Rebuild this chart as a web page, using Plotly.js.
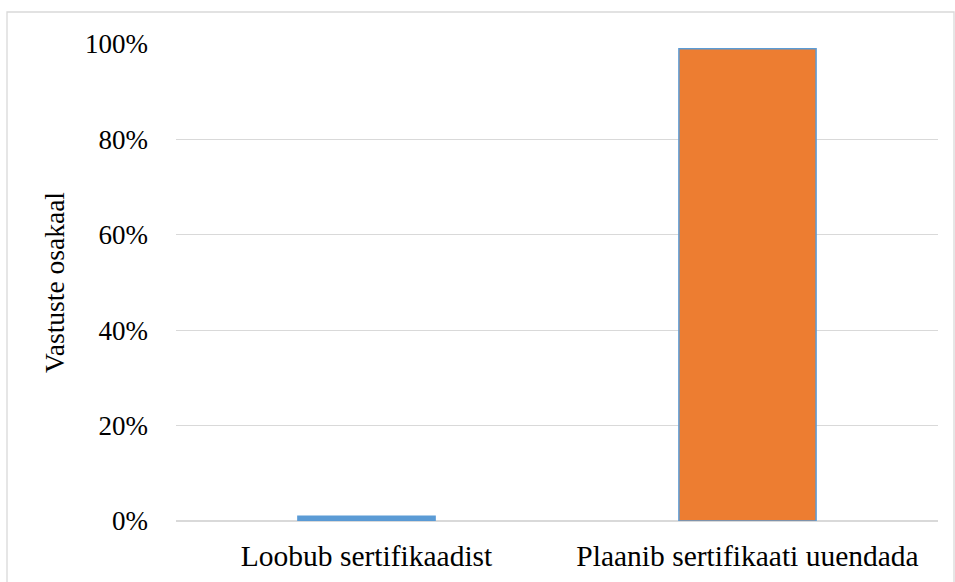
<!DOCTYPE html>
<html>
<head>
<meta charset="utf-8">
<script src="https://cdn.plot.ly/plotly-3.0.1.min.js"></script>
<style>html,body{margin:0;padding:0;background:#fff;}#chart{width:955px;height:582px;}</style>
</head>
<body>
<div id="chart"></div>
<script>
const categories = ["Loobub sertifikaadist", "Plaanib sertifikaati uuendada"];
const shares = [0.01, 0.99];
const barColors = ["#5B9BD5", "#ED7D31"];
const yTickValues = [0, 0.2, 0.4, 0.6, 0.8, 1.0];
const yTickLabels = ["0%", "20%", "40%", "60%", "80%", "100%"];

const trace = {
  type: "bar",
  x: categories,
  y: shares,
  marker: { color: barColors, line: { color: "#5B9BD5", width: 1.5 } },
  hoverinfo: "none"
};

const fam = "Liberation Serif";
const yFont = { family: fam, size: 27, color: "#000" };
const xFont = { family: fam, size: 29.5, color: "#000" };
const tFont = { family: fam, size: 27.5, color: "#000" };

const layout = {
  width: 955, height: 582,
  margin: { l: 176, r: 17, t: 44, b: 61 },
  paper_bgcolor: "#fff", plot_bgcolor: "#fff",
  font: yFont,
  showlegend: false,
  bargap: 0.64,
  xaxis: {
    type: "category",
    showgrid: false, zeroline: false, showline: false,
    ticks: "", ticklabelstandoff: 14,
    tickfont: xFont
  },
  yaxis: {
    range: [0, 1.0],
    tickvals: yTickValues, ticktext: yTickLabels,
    showgrid: true, gridcolor: "#D9D9D9", gridwidth: 1.3,
    zeroline: true, zerolinecolor: "#D9D9D9", zerolinewidth: 1.3,
    showline: false, ticks: "", ticklabelstandoff: 27,
    tickfont: yFont,
    title: { text: "Vastuste osakaal", font: tFont, standoff: 12 }
  },
  shapes: [{
    type: "rect", xref: "paper", yref: "paper",
    x0: -169/762, x1: 1 + 16/762, y0: -62/477, y1: 1 + 32/477,
    line: { color: "#D9D9D9", width: 1.3 }, fillcolor: "rgba(0,0,0,0)", layer: "below"
  }]
};

Plotly.newPlot("chart", [trace], layout, { staticPlot: true, displayModeBar: false });
</script>
</body>
</html>
